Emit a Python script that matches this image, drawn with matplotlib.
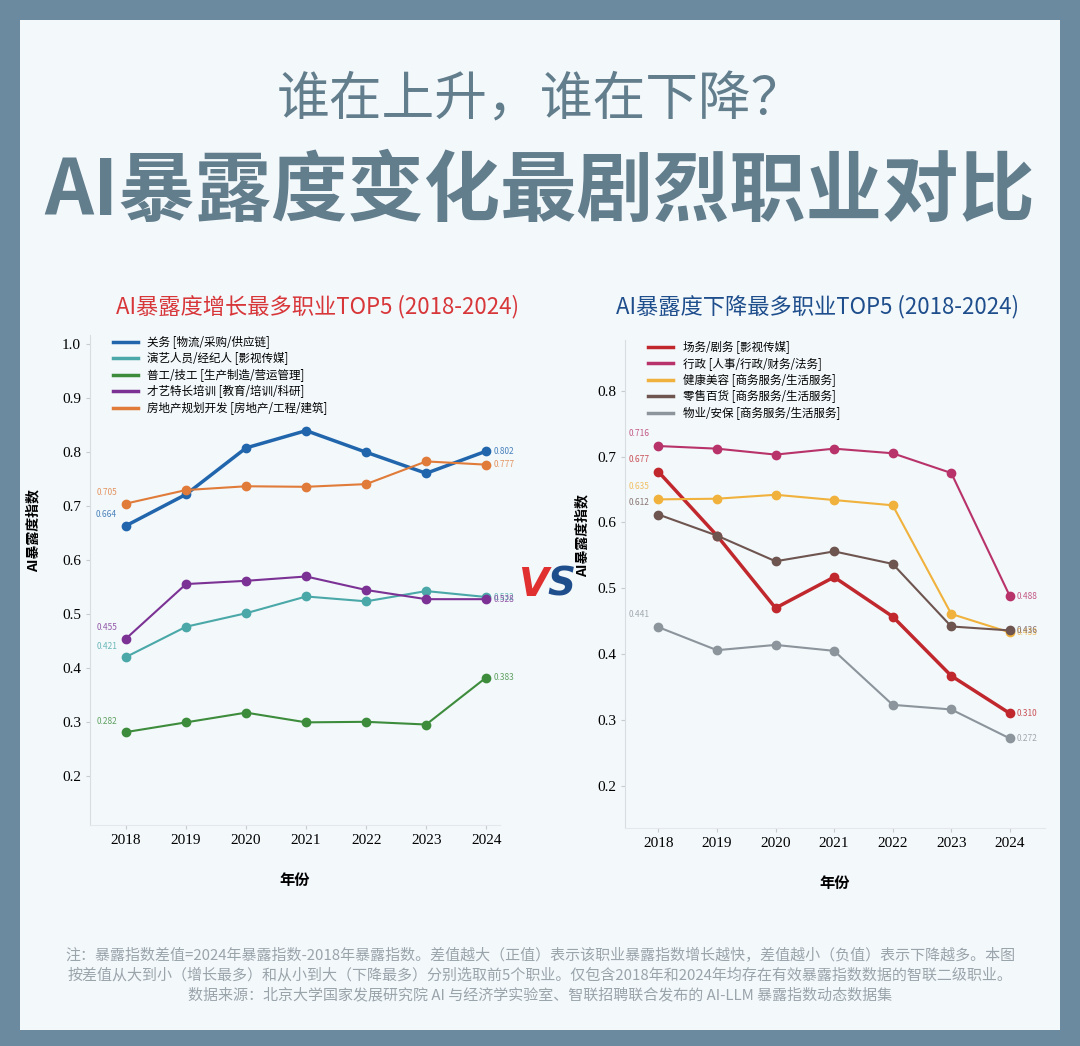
import matplotlib.pyplot as plt
from matplotlib.patches import Rectangle

plt.rcParams['font.family'] = ['Noto Sans CJK SC', 'DejaVu Sans']

years = [2018, 2019, 2020, 2021, 2022, 2023, 2024]

up_names = ['关务 [物流/采购/供应链]', '演艺人员/经纪人 [影视传媒]', '普工/技工 [生产制造/营运管理]',
            '才艺特长培训 [教育/培训/科研]', '房地产规划开发 [房地产/工程/建筑]']
up_vals = [
    [0.664, 0.722, 0.808, 0.840, 0.800, 0.761, 0.802],
    [0.421, 0.477, 0.502, 0.533, 0.524, 0.543, 0.532],
    [0.282, 0.300, 0.318, 0.300, 0.301, 0.296, 0.383],
    [0.455, 0.556, 0.562, 0.570, 0.545, 0.528, 0.528],
    [0.705, 0.730, 0.737, 0.736, 0.741, 0.783, 0.777],
]
up_colors = ['#2166ac', '#4aa8a8', '#3c8c3c', '#7b3294', '#e07b39']
up_lw = [2.5, 1.5, 1.5, 1.5, 1.5]

down_names = ['场务/剧务 [影视传媒]', '行政 [人事/行政/财务/法务]', '健康美容 [商务服务/生活服务]',
              '零售百货 [商务服务/生活服务]', '物业/安保 [商务服务/生活服务]']
down_vals = [
    [0.677, 0.580, 0.470, 0.517, 0.457, 0.367, 0.310],
    [0.716, 0.712, 0.703, 0.712, 0.705, 0.675, 0.488],
    [0.635, 0.636, 0.642, 0.634, 0.626, 0.461, 0.433],
    [0.612, 0.580, 0.541, 0.556, 0.537, 0.442, 0.436],
    [0.441, 0.406, 0.414, 0.405, 0.323, 0.316, 0.272],
]
down_colors = ['#c0282d', '#b8336a', '#f0b23c', '#6e5550', '#8c959c']
down_lw = [2.5, 1.5, 1.5, 1.5, 1.5]

W, H = 1080, 1046
fig = plt.figure(figsize=(10.8, 10.46), dpi=100)
fig.patch.set_facecolor('#6b8aa0')
fig.patches.append(Rectangle((20 / W, 1 - 1030 / H), 1040 / W, 1010 / H,
                             transform=fig.transFigure, facecolor='#f3f8fb', edgecolor='none', zorder=-5))

title_c = '#627d8c'
fig.text(0.5, 1 - 100 / H, '谁在上升，谁在下降？', ha='center', va='center', fontsize=38,
         color=title_c)
fig.text(0.5, 1 - 192 / H, 'AI暴露度变化最剧烈职业对比', ha='center', va='center', fontsize=55,
         fontweight='bold', color=title_c)
fig.text(318 / W, 1 - 307 / H, 'AI暴露度增长最多职业TOP5 (2018-2024)', ha='center', va='center',
         fontsize=16, color='#d8373a')
fig.text(818 / W, 1 - 307 / H, 'AI暴露度下降最多职业TOP5 (2018-2024)', ha='center', va='center',
         fontsize=16, color='#1f4e8c')
fig.text(533 / W, 1 - 585 / H, 'V', ha='center', va='center', fontsize=28, fontweight='bold',
         fontstyle='italic', color='#e03030', family='DejaVu Sans')
fig.text(561 / W, 1 - 585 / H, 'S', ha='center', va='center', fontsize=28, fontweight='bold',
         fontstyle='italic', color='#1f4e8c', family='DejaVu Sans')


def panel(rect, names, vals, colors, lws, ylim, xlim, yticks, ylabel_x):
    ax = fig.add_axes(rect)
    ax.set_facecolor('none')
    for n, v, c, lw in zip(names, vals, colors, lws):
        ax.plot(years, v, color=c, lw=lw, marker='o', ms=6, label=n)
        ax.text(years[0] - 0.15, v[0] + 0.012, f'{v[0]:.3f}', color=c, fontsize=6,
                ha='right', va='bottom', alpha=0.8)
        ax.text(years[-1] + 0.12, v[-1], f'{v[-1]:.3f}', color=c, fontsize=6,
                ha='left', va='center', alpha=0.8)
    ax.set_xlim(*xlim)
    ax.set_ylim(*ylim)
    ax.set_xticks(years)
    ax.set_yticks(yticks)
    ax.set_xticklabels([str(y) for y in years], family='Liberation Serif', fontsize=11)
    ax.set_yticklabels([f'{t:.1f}' for t in yticks], family='Liberation Serif', fontsize=11)
    for s in ['top', 'right']:
        ax.spines[s].set_visible(False)
    ax.spines['left'].set_color('#d8dde2')
    ax.spines['bottom'].set_color('#e4e8ec')
    ax.tick_params(length=3, color='#c8ccd0')
    ax.set_xlabel('年份', fontsize=11, fontweight='bold', labelpad=18)
    ax.set_ylabel('AI暴露度指数', fontsize=10, fontweight='bold')
    ax.yaxis.set_label_coords(ylabel_x, 0.6)
    leg = ax.legend(loc='upper left', bbox_to_anchor=(0.03, 1.02), frameon=False, fontsize=8.3,
                    handlelength=2.2, labelspacing=0.3)
    for h in leg.legend_handles:
        h.set_marker('')
        h.set_linewidth(2.5)
    return ax


panel([90 / W, 1 - 825 / H, 410 / W, 490 / H], up_names, up_vals, up_colors, up_lw,
      (0.11, 1.017), (2017.4, 2024.23), [0.2, 0.3, 0.4, 0.5, 0.6, 0.7, 0.8, 0.9, 1.0], -0.12)
panel([625 / W, 1 - 828 / H, 420 / W, 488 / H], down_names, down_vals, down_colors, down_lw,
      (0.136, 0.877), (2017.43, 2024.6), [0.2, 0.3, 0.4, 0.5, 0.6, 0.7, 0.8], -0.085)

foot = ('注：暴露指数差值=2024年暴露指数-2018年暴露指数。差值越大（正值）表示该职业暴露指数增长越快，差值越小（负值）表示下降越多。本图\n'
        '按差值从大到小（增长最多）和从小到大（下降最多）分别选取前5个职业。仅包含2018年和2024年均存在有效暴露指数数据的智联二级职业。\n'
        '数据来源：北京大学国家发展研究院 AI 与经济学实验室、智联招聘联合发布的 AI-LLM 暴露指数动态数据集')
fig.text(0.5, 1 - 975 / H, foot, ha='center', va='center', fontsize=10.8, color='#9aa4ab',
         linespacing=1.45)

fig.savefig('out.png', dpi=100, facecolor=fig.get_facecolor())
